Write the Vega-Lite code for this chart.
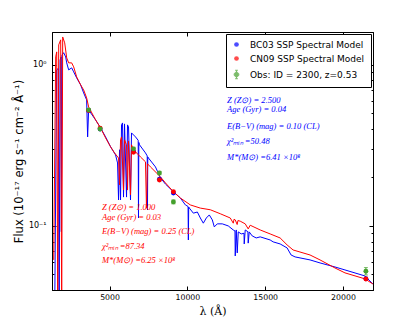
{
  "$schema": "https://vega.github.io/schema/vega-lite/v6.json",
  "width": 321,
  "height": 258,
  "autosize": {"type": "none"},
  "padding": {"left": 52, "top": 32, "right": 42, "bottom": 33},
  "background": "white",
  "config": {
    "view": {"stroke": "black", "strokeWidth": 1},
    "axis": {"grid": false, "domainColor": "black", "tickColor": "black", "labelColor": "black", "titleColor": "black", "labelFont": "DejaVu Sans", "labelFontSize": 7.8, "titleFontWeight": "normal", "labelOverlap": false, "tickWidth": 1}
  },
  "datasets": {
    "bc03": [
      {"wl": 1474, "flux": 0.03}, {"wl": 1600, "flux": 0.93}, {"wl": 1700, "flux": 0.95}, {"wl": 1760, "flux": 0.03},
      {"wl": 1820, "flux": 1.07}, {"wl": 1880, "flux": 1.12}, {"wl": 1900, "flux": 0.092}, {"wl": 1940, "flux": 1.15},
      {"wl": 2050, "flux": 1.19}, {"wl": 2180, "flux": 1.12}, {"wl": 2244, "flux": 1.029}, {"wl": 2372, "flux": 0.931},
      {"wl": 2564, "flux": 0.958}, {"wl": 2692, "flux": 0.905}, {"wl": 2885, "flux": 0.83}, {"wl": 3141, "flux": 0.751},
      {"wl": 3333, "flux": 0.67}, {"wl": 3526, "flux": 0.606}, {"wl": 3590, "flux": 0.357}, {"wl": 3654, "flux": 0.525},
      {"wl": 4103, "flux": 0.455}, {"wl": 4423, "flux": 0.406}, {"wl": 4744, "flux": 0.357}, {"wl": 5064, "flux": 0.31},
      {"wl": 5385, "flux": 0.276}, {"wl": 5513, "flux": 0.246}, {"wl": 5577, "flux": 0.145}, {"wl": 5641, "flux": 0.297},
      {"wl": 5705, "flux": 0.145}, {"wl": 5769, "flux": 0.424}, {"wl": 5833, "flux": 0.436}, {"wl": 5897, "flux": 0.151},
      {"wl": 5961, "flux": 0.43}, {"wl": 6090, "flux": 0.151}, {"wl": 6154, "flux": 0.424}, {"wl": 6218, "flux": 0.412},
      {"wl": 6346, "flux": 0.145}, {"wl": 6410, "flux": 0.378}, {"wl": 6667, "flux": 0.357}, {"wl": 6840, "flux": 0.34},
      {"wl": 6859, "flux": 0.112}, {"wl": 6880, "flux": 0.33}, {"wl": 6923, "flux": 0.319}, {"wl": 7308, "flux": 0.284},
      {"wl": 7420, "flux": 0.272}, {"wl": 7436, "flux": 0.126}, {"wl": 7455, "flux": 0.268}, {"wl": 7500, "flux": 0.264},
      {"wl": 7949, "flux": 0.2325}, {"wl": 8269, "flux": 0.199}, {"wl": 8590, "flux": 0.182}, {"wl": 9102, "flux": 0.163},
      {"wl": 9551, "flux": 0.149}, {"wl": 9872, "flux": 0.135}, {"wl": 10045, "flux": 0.132}, {"wl": 10064, "flux": 0.0818},
      {"wl": 10085, "flux": 0.131}, {"wl": 10128, "flux": 0.129}, {"wl": 10384, "flux": 0.12}, {"wl": 10641, "flux": 0.122},
      {"wl": 10833, "flux": 0.112}, {"wl": 11025, "flux": 0.104}, {"wl": 11218, "flux": 0.112}, {"wl": 11410, "flux": 0.117},
      {"wl": 11602, "flux": 0.109}, {"wl": 11731, "flux": 0.0986}, {"wl": 11923, "flux": 0.103}, {"wl": 12244, "flux": 0.103},
      {"wl": 12628, "flux": 0.1}, {"wl": 12949, "flux": 0.0944}, {"wl": 13060, "flux": 0.093}, {"wl": 13077, "flux": 0.0651},
      {"wl": 13141, "flux": 0.0944}, {"wl": 13205, "flux": 0.068}, {"wl": 13269, "flux": 0.0918}, {"wl": 13461, "flux": 0.0892},
      {"wl": 13640, "flux": 0.09}, {"wl": 13654, "flux": 0.0773}, {"wl": 13718, "flux": 0.0944}, {"wl": 13890, "flux": 0.092},
      {"wl": 13910, "flux": 0.0782}, {"wl": 13974, "flux": 0.0918}, {"wl": 14166, "flux": 0.0867}, {"wl": 14423, "flux": 0.0842},
      {"wl": 14679, "flux": 0.0855}, {"wl": 15320, "flux": 0.0818}, {"wl": 15512, "flux": 0.0796}, {"wl": 15961, "flux": 0.0773},
      {"wl": 16410, "flux": 0.073}, {"wl": 16666, "flux": 0.066}, {"wl": 16923, "flux": 0.0642}, {"wl": 17884, "flux": 0.0615},
      {"wl": 18525, "flux": 0.0589}, {"wl": 19487, "flux": 0.0556}, {"wl": 20128, "flux": 0.0533}, {"wl": 21410, "flux": 0.0489},
      {"wl": 21922, "flux": 0.0436}
    ],
    "cn09": [
      {"wl": 1410, "flux": 0.0615}, {"wl": 1538, "flux": 1.121}, {"wl": 1603, "flux": 1.204}, {"wl": 1667, "flux": 0.03},
      {"wl": 1731, "flux": 1.331}, {"wl": 1859, "flux": 1.43}, {"wl": 1923, "flux": 0.03}, {"wl": 1987, "flux": 1.49},
      {"wl": 2116, "flux": 1.37}, {"wl": 2244, "flux": 1.105}, {"wl": 2372, "flux": 1.029}, {"wl": 2564, "flux": 1.029},
      {"wl": 2692, "flux": 0.972}, {"wl": 2885, "flux": 0.842}, {"wl": 3141, "flux": 0.751}, {"wl": 3333, "flux": 0.699},
      {"wl": 3526, "flux": 0.624}, {"wl": 3654, "flux": 0.548}, {"wl": 4103, "flux": 0.455}, {"wl": 4423, "flux": 0.406},
      {"wl": 4744, "flux": 0.352}, {"wl": 5064, "flux": 0.31}, {"wl": 5320, "flux": 0.284}, {"wl": 5577, "flux": 0.264},
      {"wl": 5641, "flux": 0.18}, {"wl": 5705, "flux": 0.342}, {"wl": 5769, "flux": 0.357}, {"wl": 5897, "flux": 0.167},
      {"wl": 5961, "flux": 0.342}, {"wl": 6090, "flux": 0.319}, {"wl": 6154, "flux": 0.167}, {"wl": 6218, "flux": 0.337},
      {"wl": 6346, "flux": 0.156}, {"wl": 6410, "flux": 0.319}, {"wl": 6538, "flux": 0.297}, {"wl": 6987, "flux": 0.268},
      {"wl": 7308, "flux": 0.25}, {"wl": 7372, "flux": 0.129}, {"wl": 7436, "flux": 0.243}, {"wl": 7628, "flux": 0.2325},
      {"wl": 8269, "flux": 0.2017}, {"wl": 8590, "flux": 0.185}, {"wl": 9102, "flux": 0.163}, {"wl": 9551, "flux": 0.149},
      {"wl": 10192, "flux": 0.135}, {"wl": 10833, "flux": 0.129}, {"wl": 11474, "flux": 0.126}, {"wl": 12115, "flux": 0.119},
      {"wl": 12756, "flux": 0.112}, {"wl": 12950, "flux": 0.104}, {"wl": 13000, "flux": 0.11}, {"wl": 13077, "flux": 0.109},
      {"wl": 13200, "flux": 0.102}, {"wl": 13250, "flux": 0.108}, {"wl": 13397, "flux": 0.107}, {"wl": 13718, "flux": 0.103},
      {"wl": 13910, "flux": 0.0958}, {"wl": 14038, "flux": 0.101}, {"wl": 14679, "flux": 0.0944}, {"wl": 15320, "flux": 0.0892},
      {"wl": 15961, "flux": 0.0842}, {"wl": 16410, "flux": 0.0762}, {"wl": 16794, "flux": 0.0709}, {"wl": 17884, "flux": 0.066},
      {"wl": 18525, "flux": 0.0615}, {"wl": 19487, "flux": 0.0548}, {"wl": 20128, "flux": 0.0511}, {"wl": 21410, "flux": 0.0469},
      {"wl": 21922, "flux": 0.0436}
    ],
    "phot": [
      {"src": "BC03 SSP Spectral Model", "wl": 3654, "flux": 0.52},
      {"src": "BC03 SSP Spectral Model", "wl": 4391, "flux": 0.4},
      {"src": "BC03 SSP Spectral Model", "wl": 6538, "flux": 0.29},
      {"src": "BC03 SSP Spectral Model", "wl": 8205, "flux": 0.195},
      {"src": "BC03 SSP Spectral Model", "wl": 9102, "flux": 0.16},
      {"src": "BC03 SSP Spectral Model", "wl": 21474, "flux": 0.047},
      {"src": "CN09 SSP Spectral Model", "wl": 3654, "flux": 0.52},
      {"src": "CN09 SSP Spectral Model", "wl": 4391, "flux": 0.405},
      {"src": "CN09 SSP Spectral Model", "wl": 6538, "flux": 0.287},
      {"src": "CN09 SSP Spectral Model", "wl": 8205, "flux": 0.193},
      {"src": "CN09 SSP Spectral Model", "wl": 9102, "flux": 0.163},
      {"src": "CN09 SSP Spectral Model", "wl": 21474, "flux": 0.0468},
      {"src": "Obs: ID = 2300, z=0.53", "wl": 3654, "flux": 0.525, "lo": 0.514, "hi": 0.536},
      {"src": "Obs: ID = 2300, z=0.53", "wl": 4391, "flux": 0.4, "lo": 0.391, "hi": 0.409},
      {"src": "Obs: ID = 2300, z=0.53", "wl": 6538, "flux": 0.301, "lo": 0.294, "hi": 0.308},
      {"src": "Obs: ID = 2300, z=0.53", "wl": 8205, "flux": 0.213, "lo": 0.208, "hi": 0.218},
      {"src": "Obs: ID = 2300, z=0.53", "wl": 9102, "flux": 0.141, "lo": 0.137, "hi": 0.145},
      {"src": "Obs: ID = 2300, z=0.53", "wl": 21474, "flux": 0.0523, "lo": 0.0496, "hi": 0.0551}
    ],
    "notes": [
      {"model": "BC03", "label": "Z (Z⊙) = 2.500", "wl": 12550, "flux": 0.606},
      {"model": "BC03", "label": "Age (Gyr) = 0.04", "wl": 12550, "flux": 0.533},
      {"model": "BC03", "label": "E(B−V) (mag) = 0.10 (CL)", "wl": 12550, "flux": 0.418},
      {"model": "BC03", "label": "χ²ₘᵢₙ =50.48", "wl": 12550, "flux": 0.337},
      {"model": "BC03", "label": "M*(M⊙) =6.41 ×10⁸", "wl": 12550, "flux": 0.268},
      {"model": "CN09", "label": "Z (Z⊙) = 1.000", "wl": 4513, "flux": 0.131},
      {"model": "CN09", "label": "Age (Gyr) = 0.03", "wl": 4513, "flux": 0.114},
      {"model": "CN09", "label": "E(B−V) (mag) = 0.25 (CL)", "wl": 4513, "flux": 0.0931},
      {"model": "CN09", "label": "χ²ₘᵢₙ =87.34", "wl": 4513, "flux": 0.0751},
      {"model": "CN09", "label": "M*(M⊙) =6.25 ×10⁸", "wl": 4513, "flux": 0.0615}
    ]
  },
  "layer": [
    {
      "data": {"name": "bc03"},
      "mark": {"type": "line", "color": "#0000ff", "strokeWidth": 1, "clip": true},
      "encoding": {
        "x": {"field": "wl", "type": "quantitative", "scale": {"domain": [1300, 21930], "nice": false, "zero": false},
          "axis": {"orient": "bottom", "values": [5000, 10000, 15000, 20000], "format": "d", "tickSize": -4, "labelPadding": 7,
            "title": "λ (Å)", "titleFont": "DejaVu Serif", "titleFontSize": 11, "titleFontWeight": "normal", "titlePadding": 5}},
        "y": {"field": "flux", "type": "quantitative", "scale": {"type": "log", "domain": [0.04, 1.6], "nice": false},
          "axis": {"orient": "left", "values": [0.04, 0.05, 0.06, 0.07, 0.08, 0.09, 0.1, 0.2, 0.3, 0.4, 0.5, 0.6, 0.7, 0.8, 0.9, 1],
            "labelExpr": "datum.value == 1 ? '10⁰' : (datum.value == 0.1 ? '10⁻¹' : '')",
            "tickSize": {"condition": {"test": "datum.value == 1 || datum.value == 0.1", "value": -4}, "value": -2},
            "labelPadding": 10, "labelFontSize": 8,
            "title": "Flux (10⁻¹⁷ erg s⁻¹ cm⁻² Å⁻¹)", "titleFont": "DejaVu Sans", "titleFontSize": 11.5, "titleFontWeight": "normal", "titlePadding": 4}}
      }
    },
    {
      "data": {"name": "cn09"},
      "mark": {"type": "line", "color": "#ff0000", "strokeWidth": 1, "clip": true},
      "encoding": {
        "x": {"field": "wl", "type": "quantitative",
          "axis": {"orient": "top", "values": [5000, 10000, 15000, 20000], "tickSize": -4, "labels": false, "title": null}},
        "y": {"field": "flux", "type": "quantitative",
          "axis": {"orient": "right", "values": [0.04, 0.05, 0.06, 0.07, 0.08, 0.09, 0.1, 0.2, 0.3, 0.4, 0.5, 0.6, 0.7, 0.8, 0.9, 1],
            "tickSize": {"condition": {"test": "datum.value == 1 || datum.value == 0.1", "value": -4}, "value": -2},
            "labels": false, "title": null}}
      }
    },
    {
      "data": {"name": "phot"},
      "transform": [{"filter": "datum.src == 'Obs: ID = 2300, z=0.53'"}],
      "mark": {"type": "errorbar", "color": "#44a02c", "ticks": {"size": 4}},
      "encoding": {
        "x": {"field": "wl", "type": "quantitative", "axis": null},
        "y": {"field": "lo", "type": "quantitative", "axis": null},
        "y2": {"field": "hi"}
      }
    },
    {
      "data": {"name": "phot"},
      "mark": {"type": "point", "filled": true, "size": 24, "opacity": 1},
      "encoding": {
        "x": {"field": "wl", "type": "quantitative", "axis": null},
        "y": {"field": "flux", "type": "quantitative", "axis": null},
        "fill": {"field": "src", "type": "nominal",
          "scale": {"domain": ["BC03 SSP Spectral Model", "CN09 SSP Spectral Model", "Obs: ID = 2300, z=0.53"], "range": ["#0000ff", "#ff0000", "#44a02c"]},
          "legend": {"title": null, "orient": "top-right", "offset": 2, "padding": 6, "strokeColor": "black", "fillColor": "white",
            "labelFont": "DejaVu Sans", "labelFontSize": 9, "labelColor": "black", "symbolSize": 22, "rowPadding": 4, "labelOffset": 9,
            "symbolOpacity": 1, "symbolStrokeWidth": 1}}
      }
    },
    {
      "data": {"name": "phot"},
      "transform": [{"filter": "false"}],
      "mark": {"type": "point", "filled": true, "strokeWidth": 1},
      "encoding": {
        "x": {"field": "wl", "type": "quantitative", "axis": null},
        "y": {"field": "flux", "type": "quantitative", "axis": null},
        "fill": {"field": "src", "type": "nominal"},
        "stroke": {"field": "src", "type": "nominal",
          "scale": {"domain": ["BC03 SSP Spectral Model", "CN09 SSP Spectral Model", "Obs: ID = 2300, z=0.53"], "range": ["transparent", "transparent", "#44a02c"]},
          "legend": {"title": null}},
        "shape": {"field": "src", "type": "nominal",
          "scale": {"domain": ["BC03 SSP Spectral Model", "CN09 SSP Spectral Model", "Obs: ID = 2300, z=0.53"],
            "range": ["circle", "circle", "M0,-1.8L0,1.8M-0.6,-1.8L0.6,-1.8M-0.6,1.8L0.6,1.8M-1,0A1,1,0,1,0,1,0A1,1,0,1,0,-1,0Z"]},
          "legend": {"title": null}}
      }
    },
    {
      "data": {"name": "notes"},
      "transform": [{"filter": "datum.model == 'BC03'"}],
      "mark": {"type": "text", "align": "left", "baseline": "middle", "font": "Liberation Serif", "fontStyle": "italic", "fontSize": 8.5, "color": "#0000ff"},
      "encoding": {
        "x": {"field": "wl", "type": "quantitative", "axis": null},
        "y": {"field": "flux", "type": "quantitative", "axis": null},
        "text": {"field": "label"}
      }
    },
    {
      "data": {"name": "notes"},
      "transform": [{"filter": "datum.model == 'CN09'"}],
      "mark": {"type": "text", "align": "left", "baseline": "middle", "font": "Liberation Serif", "fontStyle": "italic", "fontSize": 8.5, "color": "#ff0000"},
      "encoding": {
        "x": {"field": "wl", "type": "quantitative", "axis": null},
        "y": {"field": "flux", "type": "quantitative", "axis": null},
        "text": {"field": "label"}
      }
    }
  ],
  "resolve": {"axis": {"x": "independent", "y": "independent"}}
}
